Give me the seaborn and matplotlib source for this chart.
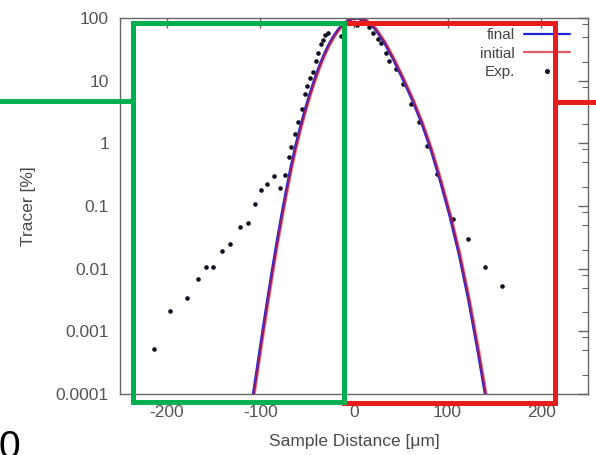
import matplotlib
matplotlib.use("Agg")
import matplotlib.pyplot as plt
from matplotlib.lines import Line2D
from matplotlib.ticker import FixedLocator, NullFormatter, NullLocator
import seaborn as sns

# model profiles (distance in um, tracer in %)
final_x = [-110.0, -107.5, -102.5, -97.5, -92.5, -87.5, -82.5, -77.5, -72.5, -67.5,
           -62.5, -57.5, -52.5, -47.5, -42.5, -37.5, -32.5, -27.5, -22.5, -17.5,
           -12.5, -7.5, -2.5, 2.5, 7.5, 12.5, 22.5, 32.5, 42.5, 52.5,
           62.5, 72.5, 82.5, 92.5, 102.5, 112.5, 122.5, 132.5, 142.5]
final_y = [5.6e-5, 1.0e-4, 3.16e-4, 1.0e-3, 3.05e-3, 9.0e-3, 0.0254, 0.0676, 0.170, 0.403,
           0.881, 1.76, 3.31, 5.89, 10.0, 16.2, 24.8, 35.9, 49.0, 63.1,
           77.6, 89.1, 97.7, 100.0, 95.5, 91.2, 67.6, 40.7, 21.4, 10.5,
           4.90, 2.09, 0.776, 0.245, 0.0692, 0.0166, 3.16e-3, 4.79e-4, 6.3e-5]

initial_x = [-109.0, -106.5, -101.5, -96.5, -91.5, -86.5, -81.5, -76.5, -71.5, -66.5,
             -61.5, -56.5, -51.5, -46.5, -41.5, -36.5, -31.5, -26.5, -21.5, -16.5,
             -11.5, -6.5, -1.5, 3.5, 8.5, 13.5, 23.5, 33.5, 43.5, 53.5,
             63.5, 73.5, 83.5, 93.5, 103.5, 113.5, 123.5, 133.5, 143.5]
initial_y = [5.6e-5, 1.0e-4, 3.16e-4, 1.0e-3, 3.05e-3, 9.0e-3, 0.0254, 0.0676, 0.170, 0.403,
             0.881, 1.76, 3.31, 5.89, 10.0, 16.2, 24.8, 35.9, 49.0, 63.1,
             77.6, 89.1, 97.7, 100.0, 95.5, 91.2, 67.6, 40.7, 21.4, 10.5,
             4.90, 2.09, 0.776, 0.245, 0.0692, 0.0166, 3.16e-3, 4.79e-4, 6.3e-5]

# experimental points
exp_x = [-213.5, -196.5, -178.4, -166.3, -158.2, -150.3, -141.5, -132.2, -122.3, -113.1,
         -106.0, -98.9, -92.9, -85.8, -78.7, -73.4, -69.5, -67.0, -63.5, -60.0,
         -55.6, -52.8, -50.0, -46.8, -43.6, -40.4, -38.6, -35.1, -33.3, -30.5,
         -27.3, -13.8, -5.0, 3.0, 8.0, 16.3, 19.9, 25.2, 28.7, 34.0,
         37.6, 44.7, 52.8, 60.6, 69.5, 77.7, 89.0, 105.6, 121.6, 140.4, 158.2]
exp_y = [5.2e-4, 2.1e-3, 3.4e-3, 6.8e-3, 0.0107, 0.0107, 0.019, 0.0245, 0.046, 0.054,
         0.106, 0.178, 0.227, 0.30, 0.196, 0.31, 0.61, 0.88, 1.4, 2.2,
         3.5, 6.1, 8.2, 11.0, 13.9, 20.5, 27.4, 38.3, 44.8, 53.0,
         57.0, 51.0, 98.0, 76.0, 100.0, 71.0, 57.0, 47.0, 40.0, 28.0,
         20.8, 15.1, 8.85, 4.2, 2.2, 0.9, 0.33, 0.063, 0.0297, 0.0107, 0.0053]

x_ticks = [-200, -100, 0, 100, 200]
y_ticks = [1e-4, 1e-3, 1e-2, 1e-1, 1, 10, 100]
y_tick_labels = ["0.0001", "0.001", "0.01", "0.1", "1", "10", "100"]
y_minor = [m * 10.0 ** e for e in range(-4, 2) for m in (2, 5, 8)]

sns.set_theme(style="white")
plt.rcParams["font.family"] = ["Liberation Sans", "DejaVu Sans"]
plt.rcParams["axes.unicode_minus"] = False

W, H = 596, 455
BLUE = "#2424d8"
RED = "#e81c1c"
GREEN = "#00b050"
GREY = "#555555"

fig = plt.figure(figsize=(W / 100, H / 100), dpi=100)
ax = fig.add_axes([120 / W, 1 - 394 / H, 468 / W, 376 / H])
ax.set_facecolor("white")

sns.lineplot(x=final_x, y=final_y, ax=ax, color=BLUE, lw=2.2, sort=False, estimator=None)
sns.lineplot(x=initial_x, y=initial_y, ax=ax, color=RED, lw=2.2, alpha=0.55, sort=False, estimator=None)
sns.scatterplot(x=exp_x, y=exp_y, ax=ax, color="#111122", s=11, linewidth=0)

ax.set_yscale("log")
ax.set_xlim(-250, 250)
ax.set_ylim(1e-4, 100)
ax.xaxis.set_major_locator(FixedLocator(x_ticks))
ax.xaxis.set_minor_locator(NullLocator())
ax.yaxis.set_major_locator(FixedLocator(y_ticks))
ax.set_yticklabels(y_tick_labels)
ax.yaxis.set_minor_locator(FixedLocator(y_minor))
ax.yaxis.set_minor_formatter(NullFormatter())

for sp in ax.spines.values():
    sp.set_color("#666666")
    sp.set_linewidth(1.0)
ax.tick_params(which="both", direction="in", top=True, right=True, color="#666666",
               labelcolor=GREY, labelsize=12.5)
ax.tick_params(which="major", length=7, width=1)
ax.tick_params(which="minor", length=4, width=0.8)
ax.tick_params(axis="x", pad=8)
ax.tick_params(axis="y", pad=8)

ax.set_xlabel("Sample Distance [μm]", fontsize=12.5, color="#4a4a4a", labelpad=10)
ax.set_ylabel("Tracer [%]", fontsize=12.5, color="#4a4a4a", labelpad=14)

handles = [Line2D([], [], color=BLUE, lw=1.6),
           Line2D([], [], color="#e05a6a", lw=1.6),
           Line2D([], [], ls="none", marker="o", ms=2.6, color="#111122")]
ax.legend(handles, ["final", "initial", "Exp."], loc="upper right",
          bbox_to_anchor=((570 - 120) / 468, (394 - 28) / 376),
          markerfirst=False, frameon=False, fontsize=11, handlelength=3.0,
          handletextpad=0.6, labelspacing=0.3, borderpad=0, borderaxespad=0,
          labelcolor="#444444")


def seg(x0, y0, x1, y1, color):
    # overlay line given in figure pixels
    fig.add_artist(Line2D([x0 / W, x1 / W], [1 - y0 / H, 1 - y1 / H],
                          transform=fig.transFigure, color=color, lw=3.6,
                          solid_capstyle="projecting"))


# red highlight box (right part)
seg(344, 22.5, 555, 22.5, RED)
seg(555, 22.5, 555, 402.5, RED)
seg(344, 402.5, 555, 402.5, RED)
seg(555, 101.5, 600, 101.5, RED)

# green highlight box (left part)
seg(132.5, 23, 344, 23, GREEN)
seg(344, 23, 344, 402, GREEN)
seg(132.5, 402, 344, 402, GREEN)
seg(132.5, 23, 132.5, 402, GREEN)
seg(-5, 101, 132.5, 101, GREEN)

# glyph cut by the bottom edge in the source image
fig.text(-1 / W, 1 - 430 / H, "0", fontsize=28, color="black", ha="left", va="top")

fig.savefig("out.png", dpi=100, facecolor="white")
